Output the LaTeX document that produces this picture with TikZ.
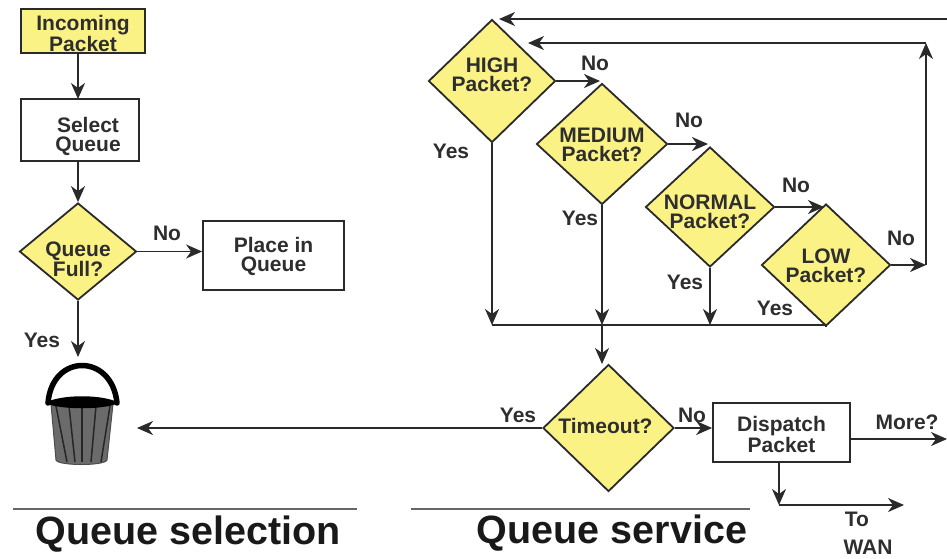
\documentclass[tikz,border=0pt]{standalone}
\usepackage{fontspec}
\setmainfont{Liberation Sans}
\usetikzlibrary{shapes.geometric,arrows.meta,calc}
\definecolor{dy}{HTML}{FBF285}
\definecolor{ln}{HTML}{2A2A2A}
\definecolor{txt}{HTML}{2E2E2E}
\tikzset{
  arr/.style={draw=ln,line width=1.8pt,-{Stealth[length=16pt,width=14pt,inset=5pt]}},
  plain/.style={draw=ln,line width=1.8pt},
  rectbox/.style={draw=ln,line width=1.8pt,fill=white,rectangle,inner sep=0pt},
  ybox/.style={rectbox,fill=dy},
  dia/.style={diamond,draw=ln,line width=1.8pt,fill=dy,inner sep=0pt},
  dlab/.style={align=center,font=\fontsize{21}{19}\selectfont\bfseries,text=txt,inner sep=0pt},
  lab/.style={font=\fontsize{21}{21}\selectfont\bfseries,text=txt,inner sep=0pt},
  title/.style={font=\fontsize{39.5}{40}\selectfont\bfseries,text=black!90,inner sep=0pt},
  rule/.style={draw=black!60,line width=2pt}
}
\begin{document}
\begin{tikzpicture}[x=1pt,y=-1pt]
\useasboundingbox (0,0) rectangle (947,558);
% boxes
\node[ybox,minimum width=124pt,minimum height=44pt,label={[dlab,yshift=-2.5pt]center:Incoming\\Packet}] (inc) at (83,31) {};
\node[rectbox,minimum width=118pt,minimum height=62pt,label={[dlab,xshift=8pt,yshift=-6pt]center:Select\\Queue}] (sel) at (80,130) {};
\node[rectbox,minimum width=141pt,minimum height=69pt,label={[dlab,yshift=-1pt]center:Place in\\Queue}] (place) at (273.5,255.5) {};
\node[rectbox,minimum width=137pt,minimum height=59pt,label={[dlab,yshift=-2pt]center:Dispatch\\Packet}] (disp) at (781.5,432.5) {};
% diamonds
\node[dia,minimum width=117pt,minimum height=97pt,aspect=1.2,label={[dlab,yshift=-8pt]center:Queue\\Full?}] (qf) at (78,251.5) {};
\node[dia,minimum width=127pt,minimum height=123pt,aspect=1.03,label={[dlab,yshift=6pt]center:HIGH\\Packet?}] (hi) at (492,81) {};
\node[dia,minimum width=131pt,minimum height=121pt,aspect=1.08,label={[dlab,yshift=-1pt]center:MEDIUM\\Packet?}] (med) at (602,144) {};
\node[dia,minimum width=129pt,minimum height=120pt,aspect=1.07,label={[dlab,yshift=-5pt]center:NORMAL\\Packet?}] (nor) at (710,207) {};
\node[dia,minimum width=129pt,minimum height=122pt,aspect=1.06,label={[dlab,yshift=-1pt]center:LOW\\Packet?}] (low) at (826,265) {};
\node[dia,minimum width=131pt,minimum height=127pt,aspect=1.03,label={[dlab,xshift=-3pt,yshift=2pt]center:Timeout?}] (to) at (608.5,428) {};
% coordinates
\coordinate (bucktop) at (78,357);
\coordinate (buckside) at (137,428);
\coordinate (bj) at (492,325);
\coordinate (lj) at (826,325);
\coordinate (mj) at (602,325);
\coordinate (mt) at (602,364);
\coordinate (nj) at (710,325);
\coordinate (rj) at (926,265);
\coordinate (rt) at (926,43);
\coordinate (ht) at (528,43);
\coordinate (top1) at (947,19);
\coordinate (top2) at (499,19);
\coordinate (more) at (947,439);
\coordinate (d1) at (779,505);
\coordinate (d2) at (904,505);
\coordinate (m1) at (600,81);
\coordinate (n1) at (708,144);
\coordinate (l1) at (824,207);
\coordinate (a1) at (78,53);
\coordinate (a2) at (78,99);
\coordinate (a3) at (78,161);
% connectors
\draw[arr] (a1) -- (a2);
\draw[arr] (a3) -- (qf.north);
\draw[arr] (qf.east) -- (qf.east -| place.west);
\draw[arr] (qf.south) -- (bucktop);
\draw[arr] (to.west) -- (buckside);
\draw[arr] (hi.south) -- (bj);
\draw[arr] (med.south) -- (mj);
\draw[arr] (mj) -- (mt);
\draw[arr] (nor.south) -- (nj);
\draw[plain] (bj) -- (lj) -- (low.south);
\draw[arr] (hi.east) -- (m1);
\draw[arr] (med.east) -- (n1);
\draw[arr] (nor.east) -- (l1);
\draw[arr] (low.east) -- (rj);
\draw[arr] (rj) -- (rt);
\draw[arr] (rt) -- (ht);
\draw[arr] (top1) -- (top2);
\draw[arr] (to.east) -- (disp.west |- to.east);
\draw[arr] (disp.east |- more) -- (more);
\draw[arr] (disp.south -| d1) -- (d1);
\draw[arr] (d1) -- (d2);
% bucket
\fill[black!58,draw=black!70,line width=1pt] (51,404) -- (113,404) -- (107,460) .. controls (105,466) and (58,466) .. (56,460) -- cycle;
\foreach \a/\b in {56/67,69/75,82/82,96/91,110/101}{\draw[black!85,line width=1.5pt] (\a,406) -- (\b,462);}
\draw[black,line width=5.5pt,line cap=round] (48,403) .. controls (52,353) and (112,353) .. (117,403);
\fill[black] (45,403) .. controls (60,394) and (104,394) .. (119,403) .. controls (104,410) and (60,410) .. (45,403) -- cycle;
% labels
\node[lab] (y1) at (42,340) {Yes};
\node[lab] (n1l) at (167,233) {No};
\node[lab] (y2) at (451,151) {Yes};
\node[lab] (n2) at (595,63) {No};
\node[lab] (y3) at (580,218) {Yes};
\node[lab] (n3) at (689,120) {No};
\node[lab] (y4) at (685,282) {Yes};
\node[lab] (n4) at (796,185) {No};
\node[lab] (y5) at (775,308) {Yes};
\node[lab] (n5) at (901,238) {No};
\node[lab] (y6) at (518,415) {Yes};
\node[lab] (n6) at (692,415) {No};
\node[lab] (mo) at (907,422) {More?};
\node[lab] (to1) at (857,519) {To};
\node[lab] (wan) at (868,547) {WAN};
% titles
\draw[rule] (13,509) -- (357,509);
\draw[rule] (411,509) -- (750,509);
\node[title] (t1) at (188.5,534) {Queue selection};
\node[title] (t2) at (612,533) {Queue service};
\end{tikzpicture}
\end{document}
